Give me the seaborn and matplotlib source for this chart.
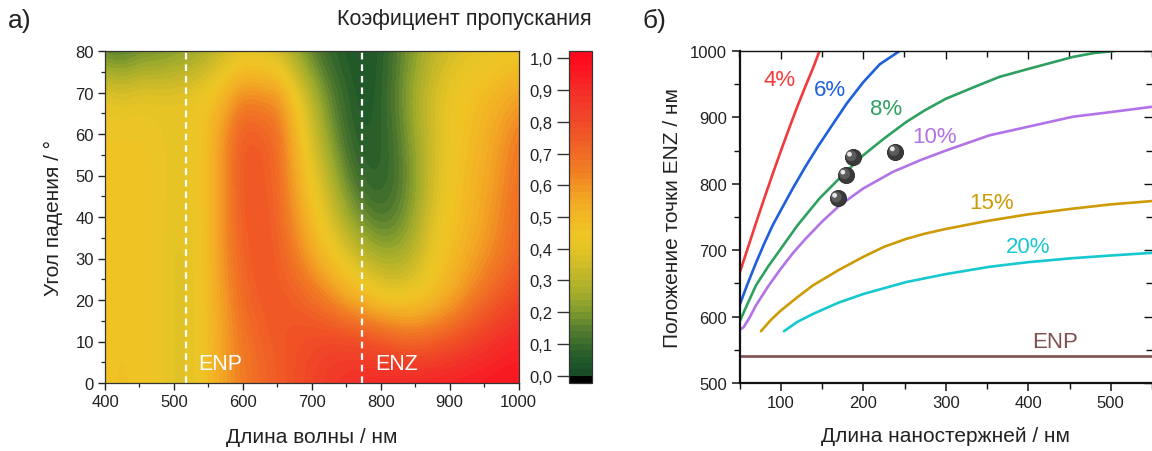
import numpy as np
import pandas as pd
import matplotlib
matplotlib.use("Agg")
import matplotlib.pyplot as plt
import matplotlib.transforms as mtransforms
from matplotlib.colors import LinearSegmentedColormap, ListedColormap, BoundaryNorm
from matplotlib.ticker import MultipleLocator, FuncFormatter
import seaborn as sns

sns.set_theme(style="ticks")
plt.rcParams["font.family"] = ["Liberation Sans", "DejaVu Sans"]

# ---------------- panel a): transmission map ----------------
wavelength_nm = np.arange(400, 1001, 25)
angle_deg = np.arange(0, 81, 10)

t_00 = [0.45, 0.47, 0.45, 0.44, 0.39, 0.40, 0.48, 0.58, 0.65, 0.70, 0.74, 0.78, 0.82,
        0.86, 0.88, 0.90, 0.92, 0.93, 0.94, 0.95, 0.95, 0.96, 0.96, 0.97, 0.97]
t_10 = [0.45, 0.46, 0.45, 0.44, 0.39, 0.40, 0.48, 0.58, 0.66, 0.72, 0.75, 0.78, 0.80,
        0.82, 0.82, 0.81, 0.78, 0.74, 0.72, 0.74, 0.78, 0.82, 0.86, 0.90, 0.92]
t_20 = [0.45, 0.46, 0.45, 0.44, 0.39, 0.40, 0.48, 0.59, 0.70, 0.75, 0.76, 0.74, 0.70,
        0.64, 0.56, 0.50, 0.45, 0.43, 0.44, 0.48, 0.54, 0.62, 0.70, 0.76, 0.82]
t_30 = [0.45, 0.46, 0.45, 0.44, 0.39, 0.40, 0.49, 0.62, 0.72, 0.77, 0.74, 0.66, 0.56,
        0.47, 0.40, 0.33, 0.27, 0.27, 0.33, 0.42, 0.48, 0.54, 0.60, 0.66, 0.72]
t_40 = [0.45, 0.46, 0.45, 0.44, 0.40, 0.41, 0.49, 0.62, 0.75, 0.77, 0.72, 0.60, 0.48,
        0.38, 0.26, 0.16, 0.12, 0.15, 0.25, 0.38, 0.45, 0.50, 0.56, 0.63, 0.70]
t_50 = [0.45, 0.46, 0.45, 0.44, 0.40, 0.42, 0.49, 0.62, 0.76, 0.76, 0.70, 0.56, 0.42,
        0.30, 0.16, 0.08, 0.07, 0.12, 0.22, 0.35, 0.44, 0.49, 0.54, 0.61, 0.68]
t_60 = [0.44, 0.44, 0.44, 0.43, 0.41, 0.42, 0.48, 0.62, 0.76, 0.74, 0.70, 0.52, 0.36,
        0.22, 0.10, 0.05, 0.07, 0.14, 0.25, 0.35, 0.42, 0.47, 0.52, 0.58, 0.66]
t_70 = [0.42, 0.38, 0.42, 0.40, 0.41, 0.42, 0.45, 0.52, 0.62, 0.60, 0.60, 0.45, 0.30,
        0.16, 0.08, 0.04, 0.07, 0.16, 0.27, 0.36, 0.43, 0.46, 0.49, 0.52, 0.56]
t_80 = [0.13, 0.11, 0.15, 0.17, 0.19, 0.22, 0.27, 0.33, 0.37, 0.37, 0.33, 0.24, 0.14,
        0.08, 0.05, 0.03, 0.06, 0.14, 0.22, 0.30, 0.35, 0.38, 0.40, 0.42, 0.42]

enp_wavelength = 518
enz_wavelength = 773

transmission = np.array([t_00, t_10, t_20, t_30, t_40, t_50, t_60, t_70, t_80])

# green -> yellow -> orange -> red scale, split into 50 bands with black underflow
stops = [
    (0.00, "#174a26"), (0.05, "#225a2a"), (0.10, "#3a6a2c"), (0.15, "#5a8030"),
    (0.20, "#7e9a2e"), (0.25, "#9eaa2c"), (0.30, "#b8b42a"), (0.35, "#d0bc28"),
    (0.40, "#e6c426"), (0.45, "#efc425"), (0.50, "#f2b824"), (0.55, "#f2a824"),
    (0.60, "#f29424"), (0.65, "#f07c24"), (0.70, "#f06a26"), (0.75, "#f05a26"),
    (0.80, "#f04a28"), (0.90, "#f42c28"), (1.00, "#ff0a1c"),
]
base = LinearSegmentedColormap.from_list("transm", stops)
n_bands = 50
band_colors = [base((i + 0.5) / n_bands) for i in range(n_bands)]
cmap = ListedColormap(["#000000"] + band_colors + [base(1.0)])
bounds = [-0.023] + list(np.linspace(0, 1, n_bands + 1)) + [1.023]
norm = BoundaryNorm(bounds, cmap.N)

fig = plt.figure(figsize=(11.52, 4.52), dpi=100)
W, H = 1152, 452

def px_axes(x0, x1, y0, y1):
    return fig.add_axes([x0 / W, 1 - y1 / H, (x1 - x0) / W, (y1 - y0) / H])

ax1 = px_axes(105, 518.5, 52, 384)
cax = px_axes(569, 592, 52, 384)
ax2 = px_axes(739.5, 1152, 52, 384)

step_w = wavelength_nm[1] - wavelength_nm[0]
step_a = angle_deg[1] - angle_deg[0]
im = ax1.imshow(
    transmission, origin="lower", aspect="auto", cmap=cmap, norm=norm,
    interpolation="bicubic", interpolation_stage="data",
    extent=[wavelength_nm[0] - step_w / 2, wavelength_nm[-1] + step_w / 2,
            angle_deg[0] - step_a / 2, angle_deg[-1] + step_a / 2],
)
ax1.set_xlim(400, 1000)
ax1.set_ylim(0, 80)
for xv in (enp_wavelength, enz_wavelength):
    ax1.axvline(xv, color="white", lw=1.6, ls=(0, (3.0, 2.2)))
ax1.text(536, 4.8, "ENP", color="white", fontsize=15.5, va="center", ha="left")
ax1.text(792, 4.8, "ENZ", color="white", fontsize=15.5, va="center", ha="left")

ax1.xaxis.set_major_locator(MultipleLocator(100))
ax1.xaxis.set_minor_locator(MultipleLocator(50))
ax1.yaxis.set_major_locator(MultipleLocator(10))
ax1.yaxis.set_minor_locator(MultipleLocator(5))
ax1.tick_params(which="major", direction="out", length=5, width=1, labelsize=12,
                color="#222222", labelcolor="#222222", pad=3)
ax1.tick_params(which="minor", direction="out", length=3, width=0.9, color="#222222")
for sp in ax1.spines.values():
    sp.set_linewidth(0.9)
    sp.set_color("#333333")
ax1.set_xlabel("Длина волны / нм", fontsize=15, color="#222222", labelpad=13)
ax1.set_ylabel("Угол падения / °", fontsize=15, color="#222222", labelpad=9)

cb = fig.colorbar(im, cax=cax, ticks=np.linspace(0, 1, 11), spacing="proportional")
cax.yaxis.set_ticks_position("left")
cax.yaxis.set_label_position("left")
cax.yaxis.set_major_formatter(FuncFormatter(lambda v, _: f"{v:.1f}".replace(".", ",")))
cax.tick_params(direction="out", length=9, width=1, labelsize=12, color="#333333",
                labelcolor="#222222", pad=3)
cax.minorticks_off()
cb.outline.set_linewidth(0.9)
cb.outline.set_edgecolor("#333333")

fig.text(592 / W, 1 - 20 / H, "Коэфициент пропускания", fontsize=15.5, ha="right",
         va="center", color="#222222")
fig.text(8 / W, 1 - 21 / H, "а)", fontsize=19, ha="left", va="center", color="#222222")
fig.text(643 / W, 1 - 21 / H, "б)", fontsize=19, ha="left", va="center", color="#222222")

# ---------------- panel б): ENZ position vs nanorod length ----------------
x_4 = [50, 60, 70, 80, 90, 100, 110, 120, 130, 140, 147]
y_4 = [665, 703, 741, 778, 814, 849, 883, 916, 947, 977, 1000]
x_6 = [50, 60, 70, 80, 90, 100, 115, 130, 145, 160, 180, 200, 220, 244]
y_6 = [617, 650, 681, 710, 737, 760, 794, 826, 856, 884, 921, 953, 980, 1000]
x_8 = [50, 60, 70, 85, 100, 120, 147, 175, 200, 225, 252, 275, 300, 335, 365, 400,
       430, 454, 480, 505]
y_8 = [592, 620, 647, 676, 702, 737, 778, 813, 843, 868, 893, 911, 928, 946, 961, 973,
       983, 991, 997, 1000]
x_10 = [50, 55, 62, 70, 85, 100, 115, 130, 150, 171, 200, 236, 270, 300, 353, 400, 454,
        500, 550]
y_10 = [580, 584, 598, 617, 646, 672, 696, 717, 743, 767, 793, 818, 836, 850, 873, 886,
        901, 908, 916]
x_15 = [76, 88, 100, 120, 139, 170, 200, 225, 252, 275, 300, 350, 400, 450, 500, 550]
y_15 = [578, 595, 609, 629, 647, 670, 690, 705, 717, 725, 732, 744, 754, 762, 769, 774]
x_20 = [104, 120, 139, 170, 200, 252, 300, 353, 400, 454, 500, 550]
y_20 = [578, 592, 604, 621, 634, 652, 664, 675, 682, 688, 692, 696]
x_enp = [50, 550]
y_enp = [540, 540]

sample_x = [169, 179, 187, 239]
sample_y = [778, 813, 840, 848]

series = [
    ("4%", x_4, y_4, "#f23a3a", (99, 957)),
    ("6%", x_6, y_6, "#1f5fdc", (160, 942)),
    ("8%", x_8, y_8, "#2ea060", (228, 913)),
    ("10%", x_10, y_10, "#b173e6", (286, 871)),
    ("15%", x_15, y_15, "#cc9b06", (356, 772)),
    ("20%", x_20, y_20, "#17c8cf", (400, 705)),
    ("ENP", x_enp, y_enp, "#7e5050", (432, 562)),
]
for name, xs, ys, col, (tx, ty) in series:
    df = pd.DataFrame({"x": xs, "y": ys})
    sns.lineplot(data=df, x="x", y="y", color=col, lw=1.9, sort=False, ax=ax2,
                 estimator=None)
    ax2.text(tx, ty, name, color=col, fontsize=16, ha="center", va="center")

pts = pd.DataFrame({"x": sample_x, "y": sample_y})
sns.scatterplot(data=pts, x="x", y="y", s=135, color="#3a3a3a", edgecolor="#262626",
                linewidth=0.6, ax=ax2, zorder=5)
shift1 = mtransforms.ScaledTranslation(-1.0 / 72, 1.0 / 72, fig.dpi_scale_trans)
sns.scatterplot(data=pts, x="x", y="y", s=60, color="#5c5c5c", edgecolor="none",
                ax=ax2, zorder=6, transform=ax2.transData + shift1)
shift2 = mtransforms.ScaledTranslation(-2.2 / 72, 2.2 / 72, fig.dpi_scale_trans)
sns.scatterplot(data=pts, x="x", y="y", s=12, color="#e6e6e6", edgecolor="none",
                ax=ax2, zorder=7, transform=ax2.transData + shift2)

ax2.set_xlim(50, 550)
ax2.set_ylim(500, 1000)
ax2.xaxis.set_major_locator(MultipleLocator(100))
ax2.xaxis.set_minor_locator(MultipleLocator(50))
ax2.yaxis.set_major_locator(MultipleLocator(100))
ax2.yaxis.set_minor_locator(MultipleLocator(50))
ax2.tick_params(which="major", direction="out", length=6, width=1.1, labelsize=12,
                color="#111111", labelcolor="#222222", pad=3)
ax2.tick_params(which="minor", direction="out", length=4, width=1.0, color="#111111")
ax2.spines["left"].set_linewidth(1.6)
ax2.spines["bottom"].set_linewidth(1.6)
ax2.spines["top"].set_linewidth(1.0)
ax2.spines["right"].set_visible(False)
for sp in ("left", "bottom", "top"):
    ax2.spines[sp].set_color("#111111")

top = ax2.secondary_xaxis("top")
top.xaxis.set_major_locator(MultipleLocator(100))
top.xaxis.set_minor_locator(MultipleLocator(50))
top.tick_params(which="both", direction="in", labeltop=False, color="#111111", width=1.0)
top.tick_params(which="major", length=6)
top.tick_params(which="minor", length=4)
top.spines["top"].set_visible(False)

right = ax2.secondary_yaxis("right")
right.yaxis.set_major_locator(MultipleLocator(100))
right.yaxis.set_minor_locator(MultipleLocator(50))
right.tick_params(which="both", direction="in", labelright=False, color="#111111", width=1.0)
right.tick_params(which="major", length=6)
right.tick_params(which="minor", length=4)
right.spines["right"].set_visible(False)

ax2.set_xlabel("Длина наностержней / нм", fontsize=15, color="#222222", labelpad=11)
ax2.set_ylabel("Положение точки ENZ / нм", fontsize=15, color="#222222", labelpad=6)

fig.savefig("out.png", dpi=100)
